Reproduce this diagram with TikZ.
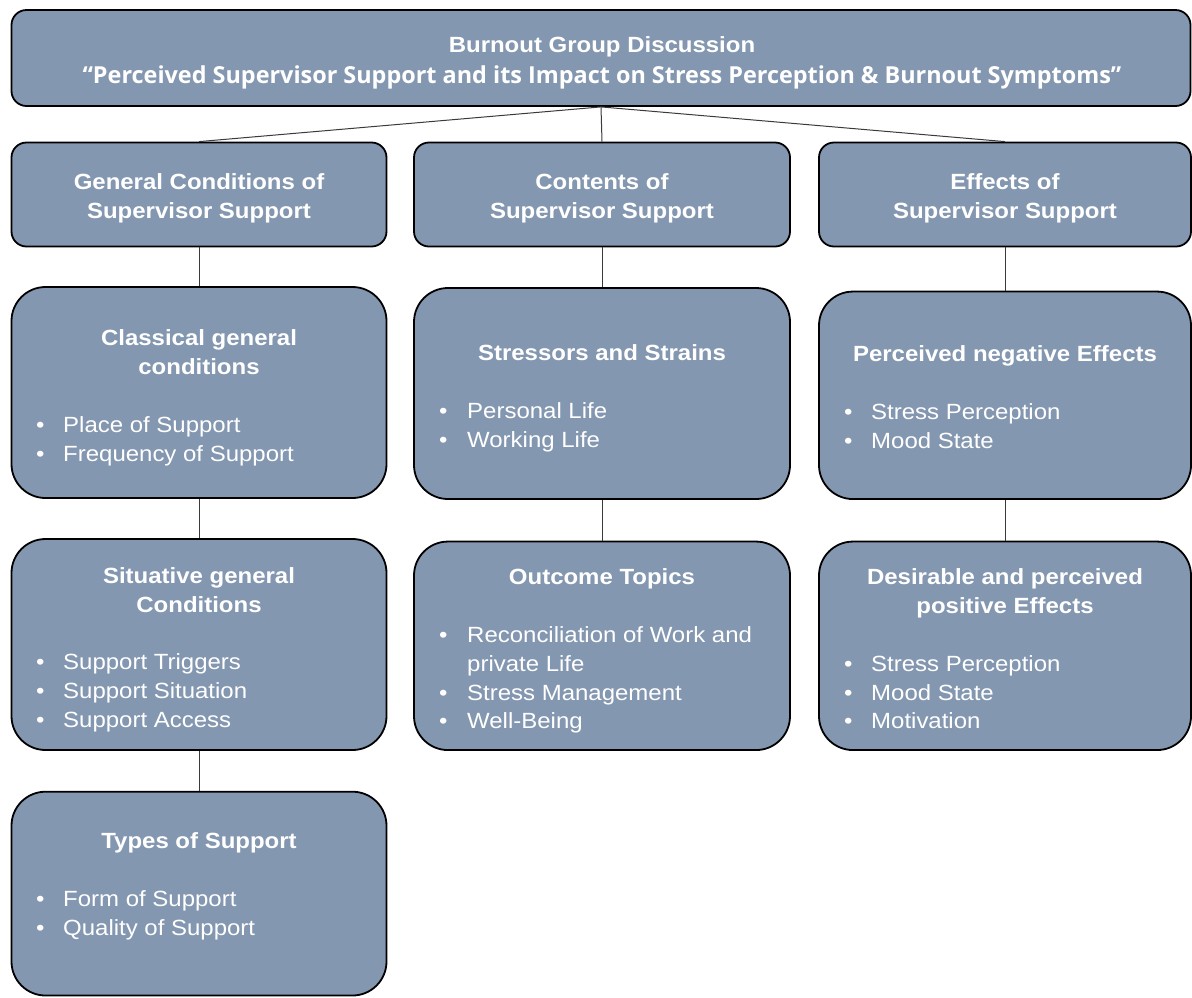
\documentclass[tikz,border=0pt]{standalone}
\usepackage{fontspec}
\setmainfont{Liberation Sans}[FakeStretch=1.09]
\newfontfamily\headfont{Open Sans}
\definecolor{boxfill}{HTML}{8497B0}
\definecolor{linkgray}{HTML}{3A3A3A}
\tikzset{
  box/.style={draw=black, line width=1.8pt, fill=boxfill, rounded corners=#1, inner sep=0pt},
  box/.default=15pt,
  conn/.style={draw=linkgray, line width=1pt},
  txt/.style={text=white, inner sep=0pt, font=\fontsize{22}{29}\selectfont},
  head/.style={txt, font=\fontsize{22}{29}\selectfont\bfseries, anchor=base},
  item/.style={txt, anchor=base west},
}
\begin{document}
\begin{tikzpicture}[x=1pt, y=-1pt]
\useasboundingbox (0,0) rectangle (1192,997);

% boxes
\node[box, minimum width=1179pt, minimum height=96pt] (top) at (601,58) {};
\node[box, minimum width=375pt, minimum height=104pt] (gc) at (199,194.5) {};
\node[box, minimum width=376pt, minimum height=104pt] (cs) at (602,194.5) {};
\node[box, minimum width=372pt, minimum height=104pt] (es) at (1005,194.5) {};
\node[box=34pt, minimum width=375pt, minimum height=211pt] (cgc) at (199,392.5) {};
\node[box=34pt, minimum width=376pt, minimum height=211pt] (sas) at (602,393.5) {};
\node[box=34pt, minimum width=372pt, minimum height=207.5pt] (pne) at (1005,395.3) {};
\node[box=34pt, minimum width=375pt, minimum height=211pt] (sgc) at (199,644.5) {};
\node[box=34pt, minimum width=376pt, minimum height=208.5pt] (ot) at (602,645.8) {};
\node[box=34pt, minimum width=372pt, minimum height=208.5pt] (dpe) at (1005,645.8) {};
\node[box=34pt, minimum width=375pt, minimum height=203.8pt] (tos) at (199,893.6) {};

% connectors
\draw[conn] (top.south) -- (gc.north);
\draw[conn] (top.south) -- (cs.north);
\draw[conn] (top.south) -- (es.north);
\draw[conn] (gc.south) -- (cgc.north);
\draw[conn] (cgc.south) -- (sgc.north);
\draw[conn] (sgc.south) -- (tos.north);
\draw[conn] (cs.south) -- (sas.north);
\draw[conn] (sas.south) -- (ot.north);
\draw[conn] (es.south) -- (pne.north);
\draw[conn] (pne.south) -- (dpe.north);

% title
\node[head] (t1) at (602,52) {Burnout Group Discussion};
\node[txt, anchor=base, font=\headfont\fontsize{23.4}{29}\selectfont\bfseries] (t2) at (602,83) {“Perceived Supervisor Support and its Impact on Stress Perception \& Burnout Symptoms”};

% first level
\node[head] (gc1) at (199,189) {General Conditions of};
\node[head] (gc2) at (199,218) {Supervisor Support};
\node[head] (cs1) at (602,189) {Contents of};
\node[head] (cs2) at (602,218) {Supervisor Support};
\node[head] (es1) at (1005,189) {Effects of};
\node[head] (es2) at (1005,218) {Supervisor Support};

% left column
\node[head] (cgc1) at (199,345) {Classical general};
\node[head] (cgc2) at (199,374) {conditions};
\node[item] (cgcb1) at (36,432) {•};
\node[item] (cgci1) at (63,432) {Place of Support};
\node[item] (cgcb2) at (36,461) {•};
\node[item] (cgci2) at (63,461) {Frequency of Support};

\node[head] (sgc1) at (199,583) {Situative general};
\node[head] (sgc2) at (199,612) {Conditions};
\node[item] (sgcb1) at (36,669) {•};
\node[item] (sgci1) at (63,669) {Support Triggers};
\node[item] (sgcb2) at (36,698) {•};
\node[item] (sgci2) at (63,698) {Support Situation};
\node[item] (sgcb3) at (36,727) {•};
\node[item] (sgci3) at (63,727) {Support Access};

\node[head] (tos1) at (199,848) {Types of Support};
\node[item] (tosb1) at (36,906) {•};
\node[item] (tosi1) at (63,906) {Form of Support};
\node[item] (tosb2) at (36,935) {•};
\node[item] (tosi2) at (63,935) {Quality of Support};

% middle column
\node[head] (sas1) at (602,360) {Stressors and Strains};
\node[item] (sasb1) at (439,418) {•};
\node[item] (sasi1) at (467,418) {Personal Life};
\node[item] (sasb2) at (439,447) {•};
\node[item] (sasi2) at (467,447) {Working Life};

\node[head] (ot1) at (602,584) {Outcome Topics};
\node[item] (otb1) at (439,642) {•};
\node[item] (oti1) at (467,642) {Reconciliation of Work and};
\node[item] (oti1b) at (467,671) {private Life};
\node[item] (otb2) at (439,700) {•};
\node[item] (oti2) at (467,700) {Stress Management};
\node[item] (otb3) at (439,728) {•};
\node[item] (oti3) at (467,728) {Well-Being};

% right column
\node[head] (pne1) at (1005,361) {Perceived negative Effects};
\node[item] (pneb1) at (844,419) {•};
\node[item] (pnei1) at (871,419) {Stress Perception};
\node[item] (pneb2) at (844,448) {•};
\node[item] (pnei2) at (871,448) {Mood State};

\node[head] (dpe1) at (1005,584) {Desirable and perceived};
\node[head] (dpe2) at (1005,613) {positive Effects};
\node[item] (dpeb1) at (844,671) {•};
\node[item] (dpei1) at (871,671) {Stress Perception};
\node[item] (dpeb2) at (844,700) {•};
\node[item] (dpei2) at (871,700) {Mood State};
\node[item] (dpeb3) at (844,728) {•};
\node[item] (dpei3) at (871,728) {Motivation};
\end{tikzpicture}
\end{document}
